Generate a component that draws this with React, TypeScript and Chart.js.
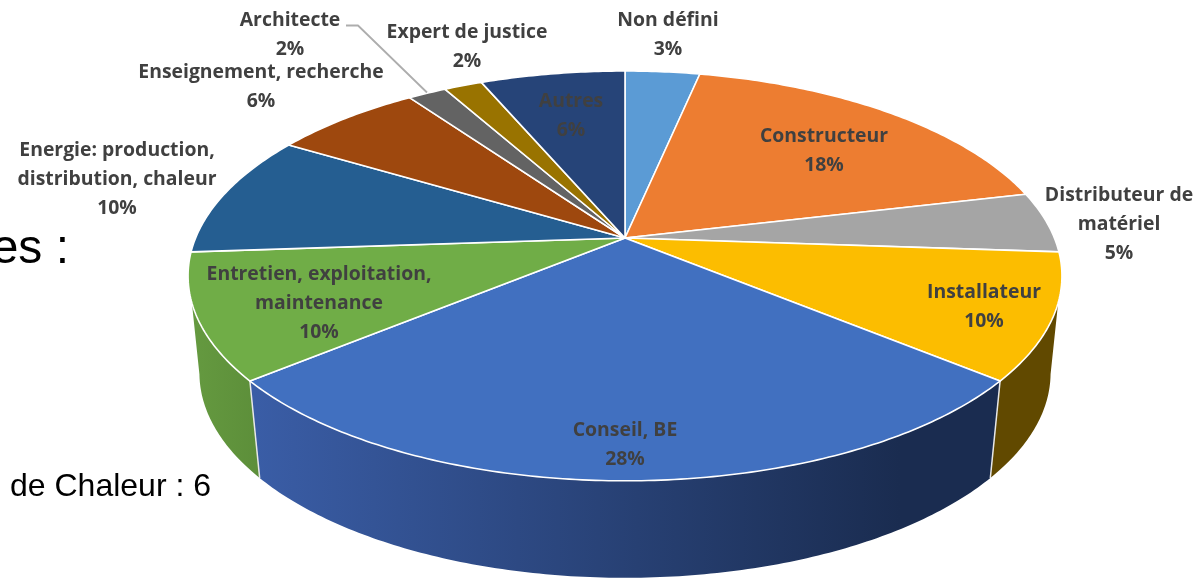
import React, { useEffect, useRef } from "react";
import { Chart, registerables } from "chart.js";

Chart.register(...registerables);

const categories = ["Non défini", "Constructeur", "Distributeur de matériel", "Installateur", "Conseil, BE", "Entretien, exploitation, maintenance", "Energie: production, distribution, chaleur", "Enseignement, recherche", "Architecte", "Expert de justice", "Autres"];
const shares = [3.3, 18, 4.8, 9.9, 28, 9.9, 9.7, 6.6, 1.7, 1.7, 6.4];
const percentLabels = ["3%", "18%", "5%", "10%", "28%", "10%", "10%", "6%", "2%", "2%", "6%"];
const labelLines = [["Non défini"], ["Constructeur"], ["Distributeur de", "matériel"], ["Installateur"], ["Conseil, BE"], ["Entretien, exploitation,", "maintenance"], ["Energie: production,", "distribution, chaleur"], ["Enseignement, recherche"], ["Architecte"], ["Expert de justice"], ["Autres"]];
const topColors = ["#5b9bd5", "#ed7d31", "#a5a5a5", "#fcbd00", "#4170c0", "#70ad47", "#255e91", "#9e480e", "#636363", "#997300", "#264478"];

// Where each label block is centred (x) and where its first line sits (y)
const labelX = [668, 824, 1119, 984, 625, 319, 117, 261, 290, 467, 571];
const labelY = [20.5, 136.5, 195.5, 292.5, 430.5, 274.5, 150.5, 72.5, 20.5, 32.5, 101.5];
const LINE_H = 28.8;

// Perspective disc: pivot, projection constants, extrusion
const CX = 625, CY = 238, A = 429.4, B = 197.9, K = 0.185, DEPTH = 97, SHRINK = 0.974;
// Angles (from the top, clockwise) where the side silhouette leaves each rim
const SIL_TOP = (108 * Math.PI) / 180, SIL_BOTTOM = (101 * Math.PI) / 180;

function top(theta: number): [number, number] {
  const u = Math.sin(theta), v = -Math.cos(theta), w = 1 - K * v;
  return [CX + (A * u) / w, CY + (B * v) / w];
}
function bottom(theta: number): [number, number] {
  const [x, y] = top(theta);
  return [CX + (x - CX) * SHRINK, y + DEPTH];
}
function sweep(a: number, b: number, f: (t: number) => [number, number]) {
  const n = Math.max(8, Math.ceil((b - a) * 80));
  const pts: [number, number][] = [];
  for (let i = 0; i <= n; i++) pts.push(f(a + ((b - a) * i) / n));
  return pts;
}

const pie3d = {
  id: "pie3d",
  beforeDatasetsDraw(chart: any) {
    const ctx = chart.ctx as CanvasRenderingContext2D;
    const arcs = chart.getDatasetMeta(0).data;
    const span = (i: number): [number, number] => [arcs[i].startAngle + Math.PI / 2, arcs[i].endAngle + Math.PI / 2];

    // backdrop text of the slide behind the chart
    ctx.save();
    ctx.fillStyle = "#000";
    ctx.textBaseline = "alphabetic";
    ctx.font = "48px 'Liberation Sans'";
    ctx.textAlign = "right";
    ctx.fillText("es :", 69, 263);
    ctx.font = "32px 'Liberation Sans'";
    ctx.textAlign = "left";
    ctx.fillText("de Chaleur : 6", 10, 496);
    ctx.restore();

    // side walls of the three front slices, clamped to the silhouette
    const grad = ctx.createLinearGradient(255, 0, 900, 0);
    grad.addColorStop(0, "#3a5da6");
    grad.addColorStop(1, "#1a2c50");
    const greenGrad = ctx.createLinearGradient(190, 0, 255, 0);
    greenGrad.addColorStop(0, "#659a40");
    greenGrad.addColorStop(1, "#5d8f3a");
    const walls: [number, string | CanvasGradient][] = [[3, "#614900"], [5, greenGrad], [4, grad]];
    const TAU = Math.PI * 2;
    for (const [i, fill] of walls) {
      const [a, b] = span(i);
      const t = sweep(Math.max(a, SIL_TOP), Math.min(b, TAU - SIL_TOP), top);
      const d = sweep(Math.max(a, SIL_BOTTOM), Math.min(b, TAU - SIL_BOTTOM), bottom).reverse();
      ctx.beginPath();
      [...t, ...d].forEach(([x, y], j) => (j ? ctx.lineTo(x, y) : ctx.moveTo(x, y)));
      ctx.closePath();
      ctx.fillStyle = fill;
      ctx.fill();
    }
    // seams between the walls
    ctx.strokeStyle = "#e8e8e8";
    ctx.lineWidth = 1.5;
    for (const i of [3, 4]) {
      const th = span(i)[1];
      const [x1, y1] = top(th);
      const [x2, y2] = bottom(th);
      ctx.beginPath();
      ctx.moveTo(x1, y1);
      ctx.lineTo(x2, y2);
      ctx.stroke();
    }

    // top faces
    arcs.forEach((_: any, i: number) => {
      const [a, b] = span(i);
      ctx.beginPath();
      ctx.moveTo(CX, CY);
      sweep(a, b, top).forEach(([x, y]) => ctx.lineTo(x, y));
      ctx.closePath();
      ctx.fillStyle = topColors[i];
      ctx.fill();
      ctx.strokeStyle = "#ffffff";
      ctx.lineWidth = 1.6;
      ctx.lineJoin = "round";
      ctx.stroke();
    });
    return false;
  },
  afterDraw(chart: any) {
    const ctx = chart.ctx as CanvasRenderingContext2D;
    // leader line of the Architecte label
    ctx.save();
    ctx.strokeStyle = "#adadad";
    ctx.lineWidth = 1.8;
    ctx.beginPath();
    ctx.moveTo(346, 25.5);
    ctx.lineTo(358, 25.5);
    ctx.lineTo(427, 92.5);
    ctx.stroke();

    ctx.fillStyle = "#404040";
    ctx.textAlign = "center";
    ctx.textBaseline = "middle";
    ctx.font = "700 19.4px 'Open Sans'";
    labelLines.forEach((lines, i) => {
      [...lines, percentLabels[i]].forEach((t, j) => {
        ctx.fillText(t, labelX[i], labelY[i] + j * LINE_H);
      });
    });
    ctx.restore();
  },
};

export default function App() {
  const ref = useRef<HTMLCanvasElement>(null);
  useEffect(() => {
    document.body.style.margin = "0";
    document.body.style.background = "#fff";
    const chart = new Chart(ref.current!, {
      type: "pie",
      data: { labels: categories, datasets: [{ data: shares, backgroundColor: topColors }] },
      options: {
        responsive: false,
        animation: false,
        plugins: { legend: { display: false }, tooltip: { enabled: false } },
      },
      plugins: [pie3d],
    } as any);
    return () => chart.destroy();
  }, []);
  return <canvas ref={ref} width={1204} height={578} style={{ display: "block" }} />;
}
